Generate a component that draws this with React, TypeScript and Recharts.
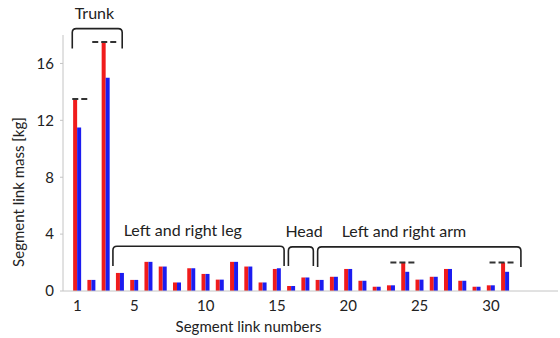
import React from 'react';
import { BarChart, Bar, XAxis, YAxis, ReferenceLine, ReferenceArea } from 'recharts';

const segments = [1, 2, 3, 4, 5, 6, 7, 8, 9, 10, 11, 12, 13, 14, 15, 16, 17, 18, 19, 20, 21, 22, 23, 24, 25, 26, 27, 28, 29, 30, 31];
const redMass = [13.5, 0.78, 17.5, 1.27, 0.78, 2.05, 1.72, 0.6, 1.6, 1.2, 0.8, 2.05, 1.72, 0.6, 1.55, 0.35, 0.95, 0.78, 1.0, 1.55, 0.72, 0.3, 0.4, 2.0, 0.8, 1.0, 1.55, 0.72, 0.3, 0.4, 2.0];
const blueMass = [11.5, 0.78, 15.0, 1.27, 0.78, 2.05, 1.72, 0.6, 1.6, 1.2, 0.8, 2.05, 1.72, 0.6, 1.6, 0.35, 0.95, 0.78, 1.0, 1.55, 0.72, 0.3, 0.4, 1.35, 0.8, 1.0, 1.55, 0.72, 0.3, 0.4, 1.35];

const xTicks = [1, 5, 10, 15, 20, 25, 30];
const yTicks = [0, 4, 8, 12, 16];

// dashed limit markers: [from, to, value]
const limitMarks = [
  [0.65, 1.8, 13.5],
  [2.05, 3.8, 17.5],
  [22.95, 24.8, 2.0],
  [29.9, 31.7, 2.0],
];

// groups: label, x-range of bracket, y-range of bracket, label centre
const groupNames = ['Trunk', 'Left and right leg', 'Head', 'Left and right arm'];
const groupX = [[0.65, 4.15], [3.5, 15.5], [15.8, 17.55], [17.85, 32.1]];
const groupY = [[17.05, 18.45], [1.76, 3.15], [1.76, 3.1], [1.69, 3.1]];
const groupLabelX = [2.2, 8.4, 16.9, 23.9];

const chartData = segments.map((s, i) => ({ seg: s, red: redMass[i], blue: blueMass[i] }));

const Bracket = (props: any) => {
  const { x, y, width, height, text, x1, x2, lx } = props;
  const r = 4;
  const xe = x + width;
  const ye = y + height;
  const d = `M${x},${ye} L${x},${y + r} Q${x},${y} ${x + r},${y} L${xe - r},${y} Q${xe},${y} ${xe},${y + r} L${xe},${ye}`;
  const tx = x + ((lx - x1) / (x2 - x1)) * width;
  return (
    <g>
      <path d={d} fill="none" stroke="#222" strokeWidth={1.6} />
      <text x={tx} y={y - 10} textAnchor="middle" fontSize={16} fill="#222">{text}</text>
    </g>
  );
};

const App: React.FC = () => {
  return (
    <div style={{ position: 'absolute', left: 0, top: 0, width: 560, height: 338, background: '#fff', fontFamily: 'Lato, sans-serif' }}>
      <BarChart
        width={560}
        height={338}
        data={chartData}
        margin={{ top: 35, right: 2, bottom: 17, left: 0 }}
        barSize={4}
        barGap={0}
      >
        <XAxis
          dataKey="seg"
          type="number"
          domain={[0, 34.7]}
          ticks={xTicks}
          interval={0}
          height={30}
          tick={{ fontSize: 15, fill: '#222' }}
          tickLine={false}
          tickMargin={3}
          axisLine={{ stroke: '#c4c4c4' }}
          label={{ value: 'Segment link numbers', position: 'center', dx: -62, dy: 21, fontSize: 15, fill: '#222' }}
        />
        <YAxis
          type="number"
          domain={[0, 18]}
          ticks={yTicks}
          width={63}
          tick={{ fontSize: 15, fill: '#222' }}
          tickSize={3}
          tickMargin={6}
          tickLine={{ stroke: '#c4c4c4' }}
          axisLine={{ stroke: '#c4c4c4' }}
          label={{ value: 'Segment link mass [kg]', angle: -90, position: 'center', dx: -13, dy: 29, fontSize: 15, fill: '#222' }}
        />
        <Bar dataKey="red" fill="#f01c1c" isAnimationActive={false} />
        <Bar dataKey="blue" fill="#1c1cf0" isAnimationActive={false} />
        {limitMarks.map((m, i) => (
          <ReferenceLine
            key={'lm' + i}
            segment={[{ x: m[0], y: m[2] }, { x: m[1], y: m[2] }]}
            stroke="#333"
            strokeWidth={2}
            strokeDasharray="6 3"
            ifOverflow="visible"
          />
        ))}
        {groupNames.map((name, i) => (
          <ReferenceArea
            key={'gr' + i}
            x1={groupX[i][0]}
            x2={groupX[i][1]}
            y1={groupY[i][0]}
            y2={groupY[i][1]}
            ifOverflow="visible"
            shape={(p: any) => (
              <Bracket {...p} text={name} x1={groupX[i][0]} x2={groupX[i][1]} lx={groupLabelX[i]} />
            )}
          />
        ))}
      </BarChart>
    </div>
  );
};

export default App;
